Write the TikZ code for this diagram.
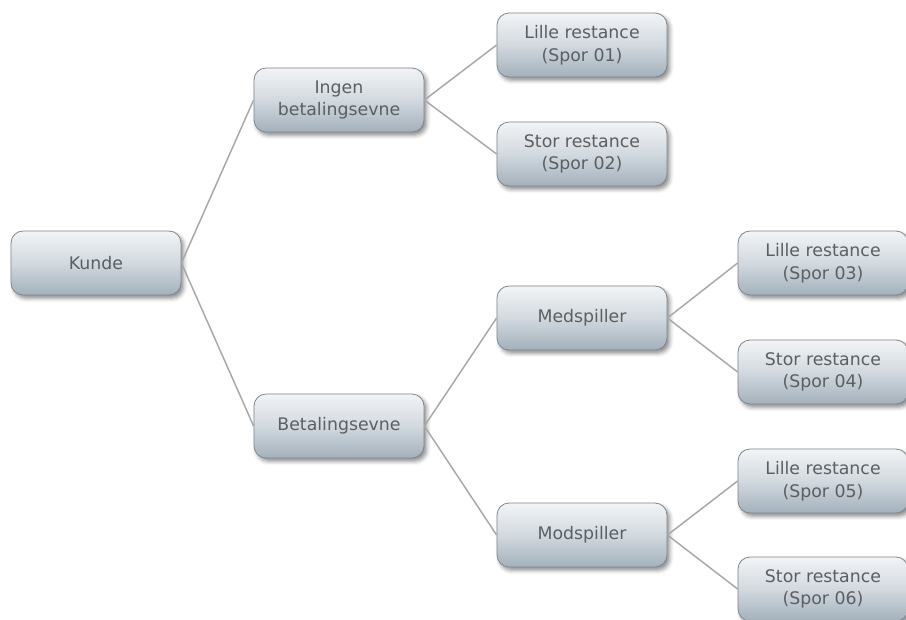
\documentclass[tikz,border=0pt]{standalone}
\usepackage{fontspec}
\setmainfont{DejaVu Sans}
\usetikzlibrary{shadows.blur}
\definecolor{boxtop}{HTML}{F2F4F6}
\definecolor{boxmid}{HTML}{D2D9DF}
\definecolor{boxbot}{HTML}{A3B0BB}
\definecolor{boxline}{HTML}{7E878E}
\definecolor{boxtext}{HTML}{5A5F63}
\definecolor{wire}{HTML}{A8A8A8}
\tikzset{
  treebox/.style={
    draw=boxline, line width=0.6pt, rounded corners=9pt,
    top color=boxtop, bottom color=boxbot, middle color=boxmid,
    minimum width=127.5pt, minimum height=48pt,
    text=boxtext, font=\fontsize{13}{17}\selectfont, align=center,
    blur shadow={shadow xshift=2pt, shadow yshift=-2.5pt,
                 shadow blur radius=3pt, shadow opacity=45}
  },
  wirestyle/.style={draw=wire, line width=1.1pt}
}
\begin{document}
\begin{tikzpicture}[x=0.75pt, y=-0.75pt]
\useasboundingbox (0,0) rectangle (906,619);
% nodes of the decision tree
\node[treebox] (kunde) at (96,263) {Kunde};
\node[treebox] (ingen) at (339,100) {Ingen\\betalingsevne};
\node[treebox] (betal) at (339,426) {Betalingsevne};
\node[treebox] (s1) at (582,45) {Lille restance\\(Spor 01)};
\node[treebox] (s2) at (582,154) {Stor restance\\(Spor 02)};
\node[treebox] (med) at (582,318) {Medspiller};
\node[treebox] (mod) at (582,535) {Modspiller};
\node[treebox] (s3) at (823,263) {Lille restance\\(Spor 03)};
\node[treebox] (s4) at (823,372) {Stor restance\\(Spor 04)};
\node[treebox] (s5) at (823,481) {Lille restance\\(Spor 05)};
\node[treebox] (s6) at (823,589) {Stor restance\\(Spor 06)};
% connectors from each parent's right side to its children
\path[wirestyle]
  (kunde.east) -- (ingen.west)
  (kunde.east) -- (betal.west)
  (ingen.east) -- (s1.west)
  (ingen.east) -- (s2.west)
  (betal.east) -- (med.west)
  (betal.east) -- (mod.west)
  (med.east) -- (s3.west)
  (med.east) -- (s4.west)
  (mod.east) -- (s5.west)
  (mod.east) -- (s6.west);
\end{tikzpicture}
\end{document}
